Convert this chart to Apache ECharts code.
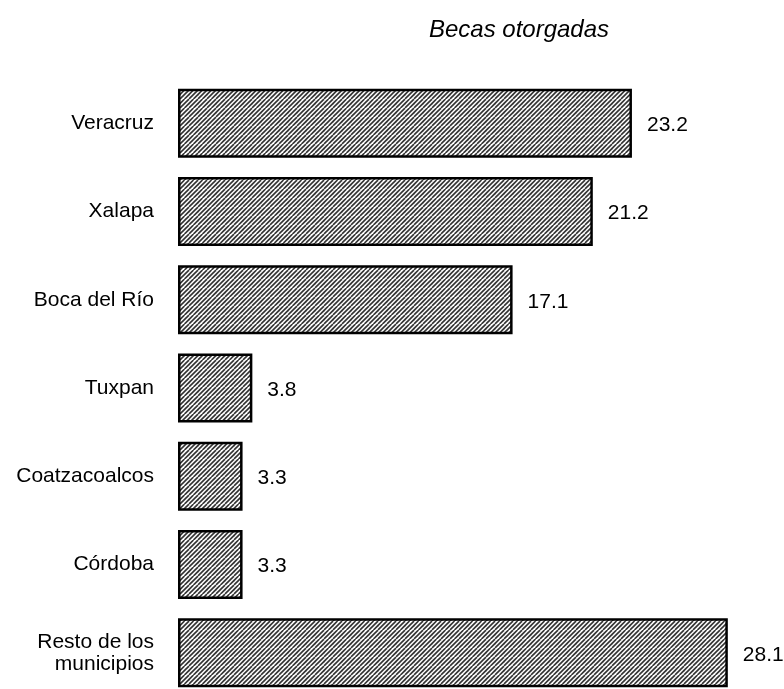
<!DOCTYPE html>
<html><head><meta charset="utf-8">
<script src="https://cdn.jsdelivr.net/npm/echarts@6/dist/echarts.min.js"></script>
<style>html,body{margin:0;padding:0;background:#fff}#c{width:784px;height:689px}</style>
</head><body><div id="c"></div>
<script>
const categories = ['Veracruz','Xalapa','Boca del Río','Tuxpan','Coatzacoalcos','Córdoba','Resto de los\nmunicipios'];
const values = [23.2, 21.2, 17.1, 3.8, 3.3, 3.3, 28.1];
const title = 'Becas otorgadas';

function hatch(){
  const n = 9, p = 4.5;
  const c = document.createElement('canvas');
  c.width = n; c.height = n;
  const g = c.getContext('2d');
  g.fillStyle = '#fff'; g.fillRect(0,0,n,n);
  g.strokeStyle = '#333'; g.lineWidth = 1.6;
  for (let k = -2*n; k <= 2*n; k += p) {
    g.beginPath(); g.moveTo(k, n); g.lineTo(k + n, 0); g.stroke();
  }
  return c;
}

const chart = echarts.init(document.getElementById('c'), null, {renderer:'canvas'});
chart.setOption({
  animation:false,
  backgroundColor:'#fff',
  title:{text:title, left:514, top:13, textAlign:'center',
    textStyle:{fontFamily:'Liberation Sans, Arial', fontStyle:'italic', fontWeight:'normal', fontSize:24, color:'#000'}},
  grid:{left:178, top:79, width:587, height:618, containLabel:false, outerBoundsMode:'none'},
  xAxis:{type:'value', min:0, max:30, show:false},
  yAxis:{type:'category', data:categories, inverse:true,
    axisLine:{show:false}, axisTick:{show:false}, splitLine:{show:false},
    axisLabel:{margin:24, fontFamily:'Liberation Sans, Arial', fontSize:21, color:'#000', lineHeight:22, align:'right'}},
  series:[{type:'bar', data:values, barWidth:69,
    itemStyle:{color:{image:hatch(), repeat:'repeat'}, borderColor:'#000', borderWidth:2.5},
    label:{show:true, position:'right', distance:15, offset:[0,2], fontFamily:'Liberation Sans, Arial', fontSize:21, color:'#000',
      formatter:p=>p.value.toFixed(1)}}]
});
</script></body></html>
